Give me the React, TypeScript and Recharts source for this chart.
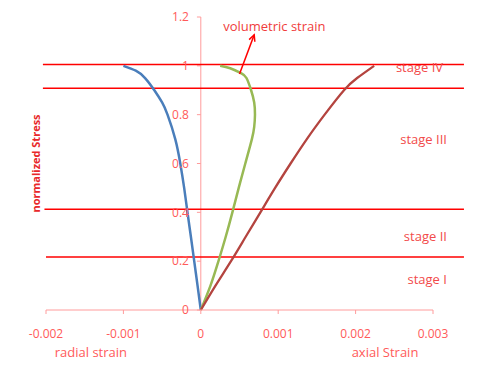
import { LineChart, Line, XAxis, YAxis, ReferenceLine, ReferenceDot } from 'recharts';

const xTicks = [-0.002, -0.001, 0, 0.001, 0.002, 0.003];
const yTicks = [0, 0.2, 0.4, 0.6, 0.8, 1, 1.2];

// radial strain (left), volumetric strain, axial strain
const radial = [
  { x: 0, y: 0 },
  { x: -0.000042, y: 0.1 },
  { x: -0.000085, y: 0.2 },
  { x: -0.000128, y: 0.3 },
  { x: -0.000172, y: 0.4 },
  { x: -0.000215, y: 0.5 },
  { x: -0.000265, y: 0.6 },
  { x: -0.00033, y: 0.7 },
  { x: -0.00043, y: 0.8 },
  { x: -0.0005, y: 0.85 },
  { x: -0.0006, y: 0.9 },
  { x: -0.00072, y: 0.95 },
  { x: -0.00084, y: 0.98 },
  { x: -0.001, y: 1.0 },
];

const volumetric = [
  { x: 0, y: 0 },
  { x: 0.000125, y: 0.1 },
  { x: 0.000228, y: 0.2 },
  { x: 0.000322, y: 0.3 },
  { x: 0.000408, y: 0.4 },
  { x: 0.00049, y: 0.5 },
  { x: 0.000575, y: 0.6 },
  { x: 0.00066, y: 0.7 },
  { x: 0.00069, y: 0.75 },
  { x: 0.0007, y: 0.8 },
  { x: 0.00069, y: 0.85 },
  { x: 0.00065, y: 0.9 },
  { x: 0.00059, y: 0.95 },
  { x: 0.00052, y: 0.97 },
  { x: 0.00038, y: 0.99 },
  { x: 0.00025, y: 1.0 },
];

const axial = [
  { x: 0, y: 0 },
  { x: 0.00019, y: 0.1 },
  { x: 0.00039, y: 0.2 },
  { x: 0.00058, y: 0.3 },
  { x: 0.00077, y: 0.4 },
  { x: 0.00096, y: 0.5 },
  { x: 0.00116, y: 0.6 },
  { x: 0.00137, y: 0.7 },
  { x: 0.0016, y: 0.8 },
  { x: 0.00185, y: 0.9 },
  { x: 0.00202, y: 0.95 },
  { x: 0.00224, y: 1.0 },
];

// stage boundaries
const stageLevels = [1.005, 0.908, 0.413, 0.217];
const stageStarts = [-0.00204, -0.00204, -0.00202, -0.002];
const stageEnd = 0.0034;

const stageNames = ['stage IV', 'stage III', 'stage II', 'stage I'];
const stageLabelX = [0.00313, 0.00318, 0.00318, 0.00318];
const stageLabelY = [0.992, 0.697, 0.303, 0.127];

const RED = '#ff0000';
const AXIS = '#ff9c9c';
const TICK_TEXT = '#ff5a5a';
const FONT = '"Open Sans", sans-serif';

function Arrow(props: any) {
  const { x1, y1, x2, y2 } = props;
  const a = Math.atan2(y1 - y2, x1 - x2);
  const len = 7;
  const s = 0.45;
  const ax = x2 + len * Math.cos(a + s);
  const ay = y2 + len * Math.sin(a + s);
  const bx = x2 + len * Math.cos(a - s);
  const by = y2 + len * Math.sin(a - s);
  return (
    <g>
      <line x1={x1} y1={y1} x2={x2} y2={y2} stroke={RED} strokeWidth={1.5} />
      <polyline points={`${ax},${ay} ${x2},${y2} ${bx},${by}`} fill="none" stroke={RED} strokeWidth={1.5} />
    </g>
  );
}

function StressLabel({ viewBox }: any) {
  const x = viewBox.x + 27;
  const y = viewBox.y + viewBox.height / 2;
  return (
    <text
      x={x}
      y={y}
      transform={`rotate(-90 ${x} ${y})`}
      textAnchor="middle"
      dominantBaseline="central"
      fontSize={11}
      fontWeight={700}
      fill="#e8282a"
      fontFamily={FONT}
    >
      normalized Stress
    </text>
  );
}

function TextAt({ x, y, text, color, size, anchor }: any) {
  return (
    <ReferenceDot
      x={x}
      y={y}
      r={0}
      fill="none"
      stroke="none"
      ifOverflow="visible"
      label={{ value: text, position: anchor, offset: 0, fill: color, fontSize: size, fontFamily: FONT }}
    />
  );
}

export default function App() {
  return (
    <div style={{ position: 'relative', fontFamily: FONT }}>
      <div style={{ position: 'absolute', left: -8, top: -8, width: 3, height: 372, background: '#eceff3' }} />
      <LineChart width={469} height={356} margin={{ top: 9, right: 44, bottom: 14, left: 0 }}>
        <XAxis
          dataKey="x"
          type="number"
          domain={[-0.002, 0.003]}
          ticks={xTicks}
          allowDataOverflow
          height={40}
          stroke={AXIS}
          tickSize={4}
          tickMargin={15}
          tick={{ fill: TICK_TEXT, fontSize: 12, fontFamily: FONT }}
        />
        <YAxis
          type="number"
          domain={[0, 1.2]}
          ticks={yTicks}
          width={38}
          tick={false}
          axisLine={false}
          tickLine={false}
          label={<StressLabel />}
        />
        <ReferenceLine x={0} stroke={AXIS} strokeWidth={1} />
        {yTicks.map((v) => (
          <ReferenceLine
            key={'yt' + v}
            segment={[{ x: -0.00005, y: v }, { x: 0, y: v }]}
            stroke={AXIS}
            ifOverflow="visible"
            label={{ value: String(v), position: 'left', offset: 8, fill: TICK_TEXT, fontSize: 12, fontFamily: FONT }}
          />
        ))}
        {stageLevels.map((v, i) => (
          <ReferenceLine
            key={'st' + i}
            segment={[{ x: stageStarts[i], y: v }, { x: stageEnd, y: v }]}
            stroke={RED}
            strokeWidth={1.5}
            ifOverflow="visible"
          />
        ))}
        <Line data={radial} dataKey="y" type="natural" stroke="#4a7ebb" strokeWidth={2.5} dot={false} activeDot={false} isAnimationActive={false} />
        <Line data={volumetric} dataKey="y" type="natural" stroke="#98b954" strokeWidth={2.5} dot={false} activeDot={false} isAnimationActive={false} />
        <Line data={axial} dataKey="y" type="natural" stroke="#b4443f" strokeWidth={2.3} dot={false} activeDot={false} isAnimationActive={false} />
        <ReferenceLine
          segment={[{ x: 0.0005, y: 0.967 }, { x: 0.00069, y: 1.127 }]}
          ifOverflow="visible"
          shape={Arrow}
        />
        {TextAt({ x: 0.00095, y: 1.16, text: 'volumetric strain', color: '#f03c3c', size: 13, anchor: 'center' })}
        {stageNames.map((name, i) => (
          <ReferenceDot
            key={name}
            x={stageLabelX[i]}
            y={stageLabelY[i]}
            r={0}
            fill="none"
            stroke="none"
            ifOverflow="visible"
            label={{ value: name, position: 'left', offset: 0, fill: '#f24a4a', fontSize: 13, fontFamily: FONT }}
          />
        ))}
        {TextAt({ x: -0.00142, y: -0.172, text: 'radial strain', color: TICK_TEXT, size: 13, anchor: 'center' })}
        {TextAt({ x: 0.00238, y: -0.172, text: 'axial Strain', color: TICK_TEXT, size: 13, anchor: 'center' })}
      </LineChart>
    </div>
  );
}
